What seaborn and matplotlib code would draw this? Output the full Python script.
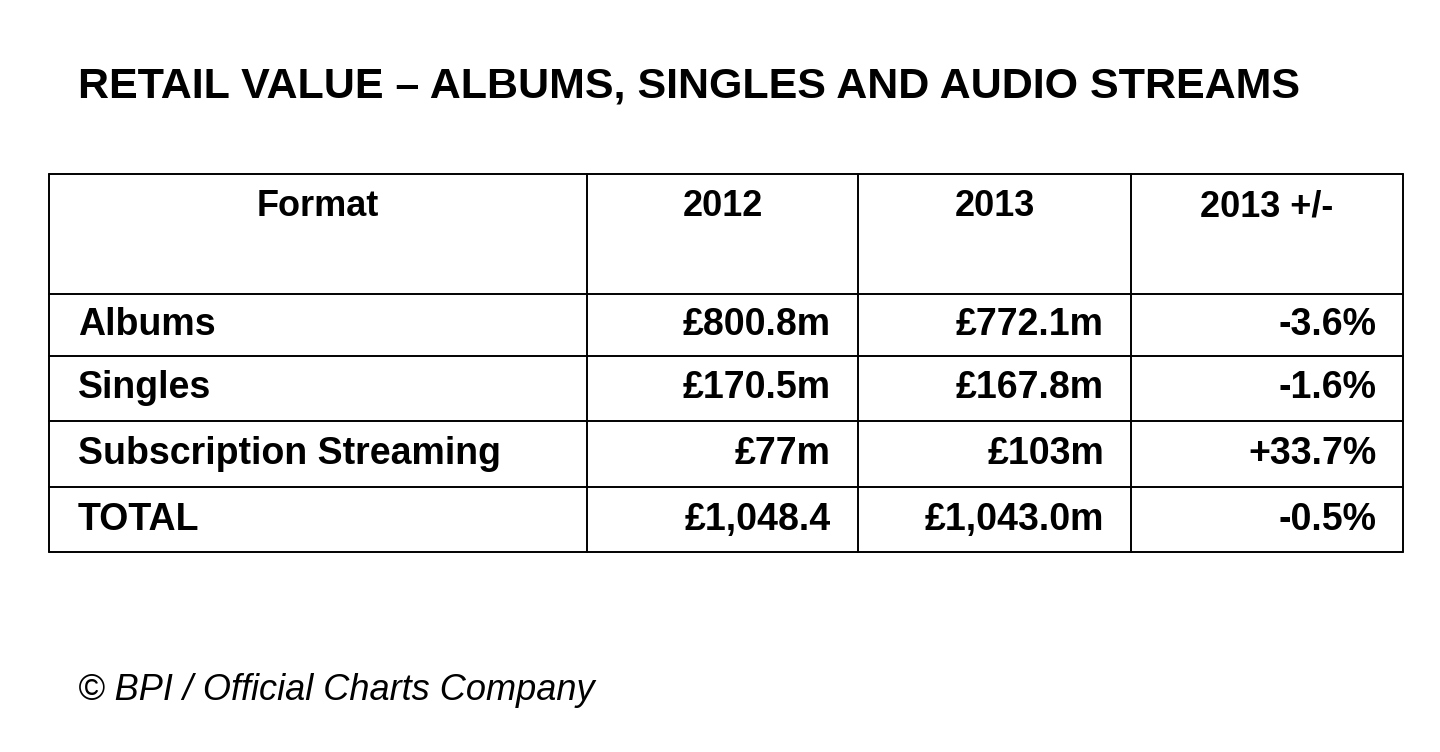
import matplotlib
matplotlib.use("Agg")
import matplotlib.pyplot as plt
import seaborn as sb

sb.set_theme(style="white")
plt.rcParams['font.family'] = ['Liberation Sans', 'DejaVu Sans']
plt.rcParams['text.color'] = 'black'

title = "RETAIL VALUE \u2013 ALBUMS, SINGLES AND AUDIO STREAMS"
headers = ["Format", "2012", "2013", "2013 +/-"]
formats = ["Albums", "Singles", "Subscription Streaming", "TOTAL"]
value_2012 = ["\u00a3800.8m", "\u00a3170.5m", "\u00a377m", "\u00a31,048.4"]
value_2013 = ["\u00a3772.1m", "\u00a3167.8m", "\u00a3103m", "\u00a31,043.0m"]
change = ["-3.6%", "-1.6%", "+33.7%", "-0.5%"]
footer = "\u00a9 BPI / Official Charts Company"

fig = plt.figure(figsize=(14.4, 7.52), dpi=100)
ax = fig.add_axes([0, 0, 1, 1])
ax.set_xlim(0, 1440)
ax.set_ylim(752, 0)
ax.axis("off")

# grid
cols = [49, 587, 858, 1131, 1403]
rows = [174, 294, 356, 421, 487, 552]
for y in rows:
    ax.plot([cols[0], cols[-1]], [y, y], color="black", lw=1.4)
for x in cols:
    ax.plot([x, x], [rows[0], rows[-1]], color="black", lw=1.4)

ax.text(78, 86, title, fontsize=31, fontweight="bold", va="center", ha="left", color="black")

for i, h in enumerate(headers):
    ax.text((cols[i] + cols[i + 1]) / 2, 207, h, fontsize=26, fontweight="bold",
            ha="center", va="center", color="black")

fs = 27
for r in range(len(formats)):
    yc = (rows[r + 1] + rows[r + 2]) / 2
    ax.text(78, yc, formats[r], fontsize=fs, fontweight="bold", va="center", color="black")
    ax.text(831, yc, value_2012[r], fontsize=fs, fontweight="bold", va="center", ha="right", color="black")
    ax.text(1104, yc, value_2013[r], fontsize=fs, fontweight="bold", va="center", ha="right", color="black")
    ax.text(1377, yc, change[r], fontsize=fs, fontweight="bold", va="center", ha="right", color="black")

ax.text(78, 690, footer, fontsize=26, fontstyle="italic", va="center", color="black")

fig.savefig("out.png", dpi=100, facecolor="white")
